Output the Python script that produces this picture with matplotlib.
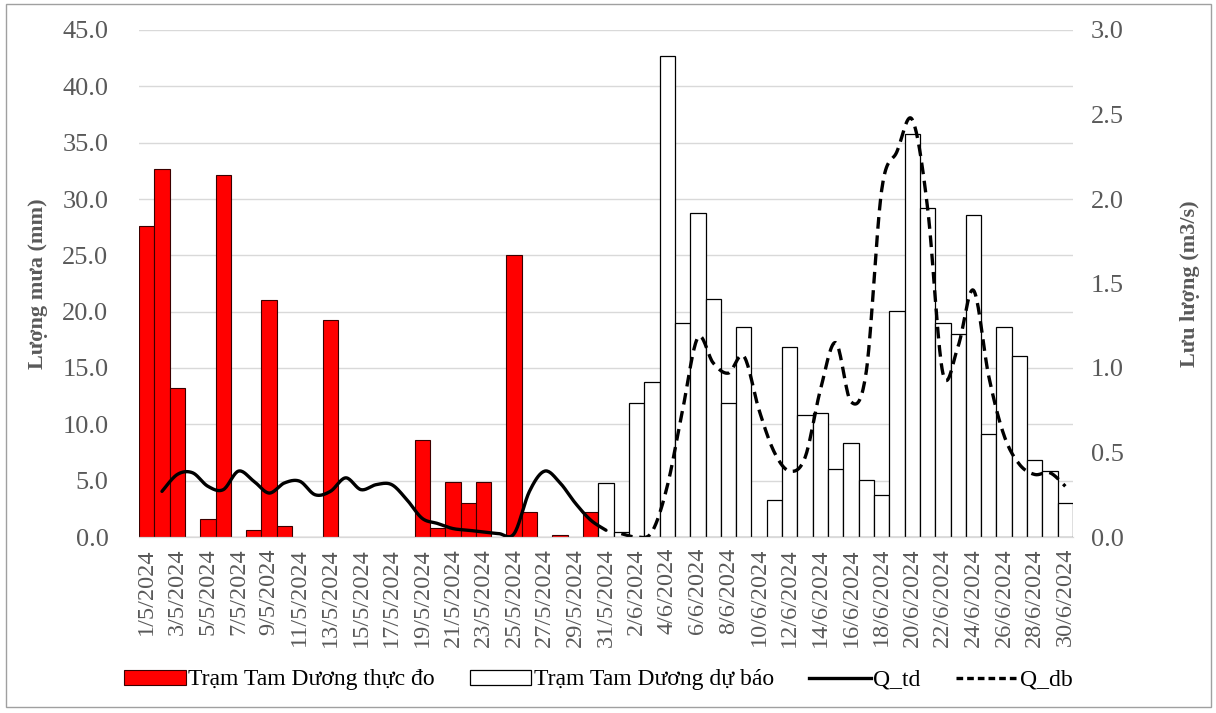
import numpy as np
import matplotlib
matplotlib.use('Agg')
import matplotlib.pyplot as plt
from matplotlib.patches import Patch, Rectangle
from matplotlib.lines import Line2D

plt.rcParams['font.family'] = ['Liberation Serif', 'DejaVu Serif']

## Data

dates = [f'{d}/5/2024' for d in range(1, 32)] + [f'{d}/6/2024' for d in range(1, 31)]

# rainfall, observed (1/5 - 30/5)
rain_obs = [27.6, 32.7, 13.2, 0.0, 1.6, 32.1, 0.0, 0.6, 21.0, 1.0,
            0.0, 0.0, 19.3, 0.0, 0.0, 0.0, 0.0, 0.0, 8.6, 0.8,
            4.9, 3.0, 4.9, 0.0, 25.0, 2.2, 0.0, 0.2, 0.0, 2.2]

# rainfall, forecast (31/5 - 30/6)
rain_fc = [4.8, 0.4, 11.9, 13.8, 42.7, 19.0, 28.8, 21.1, 11.9, 18.6,
           0.0, 3.3, 16.9, 10.8, 11.0, 6.0, 8.3, 5.1, 3.7, 20.1,
           35.8, 29.2, 19.0, 18.0, 28.6, 9.1, 18.6, 16.1, 6.8, 5.9, 3.0]

# discharge, observed (2/5 - 31/5)
q_td = [0.27, 0.37, 0.38, 0.30, 0.28, 0.39, 0.33, 0.26, 0.32, 0.33,
        0.25, 0.27, 0.35, 0.28, 0.31, 0.31, 0.22, 0.11, 0.08, 0.05,
        0.04, 0.03, 0.02, 0.02, 0.27, 0.39, 0.32, 0.20, 0.10, 0.04]

# discharge, forecast (1/6 - 30/6)
q_db = [0.02, 0.00, 0.03, 0.30, 0.75, 1.18, 1.03, 0.97, 1.07, 0.75,
        0.50, 0.39, 0.47, 0.87, 1.15, 0.80, 0.98, 2.05, 2.28, 2.47,
        1.95, 0.97, 1.13, 1.46, 0.95, 0.60, 0.43, 0.37, 0.38, 0.30]

x_obs = np.arange(0, len(rain_obs))
x_fc = np.arange(len(rain_obs), len(dates))
x_qtd = np.arange(1, 1 + len(q_td))
x_qdb = np.arange(31, 31 + len(q_db))


def smooth(x, y, n=20):
    # excel-like smoothed line (bezier through the points)
    x = np.asarray(x, float)
    y = np.asarray(y, float)
    px = np.concatenate([[x[0]], x, [x[-1]]])
    py = np.concatenate([[y[0]], y, [y[-1]]])
    t = np.linspace(0, 1, n)[:, None]
    xs, ys = [], []
    for i in range(1, len(px) - 2):
        p0 = np.array([px[i], py[i]])
        p3 = np.array([px[i + 1], py[i + 1]])
        p1 = p0 + (p3 - np.array([px[i - 1], py[i - 1]])) / 6
        p2 = p3 - (np.array([px[i + 2], py[i + 2]]) - p0) / 6
        b = (1 - t) ** 3 * p0 + 3 * (1 - t) ** 2 * t * p1 + 3 * (1 - t) * t ** 2 * p2 + t ** 3 * p3
        xs.append(b[:, 0])
        ys.append(b[:, 1])
    return np.concatenate(xs), np.concatenate(ys)


## plot

grey = '#595959'
fig = plt.figure(figsize=(12.16, 7.13), dpi=100)
ax = fig.add_axes([139 / 1216, 1 - 537 / 713, 934 / 1216, 507 / 713])
ax2 = ax.twinx()

ax.bar(x_obs, rain_obs, width=1.0, color='#ff0000', edgecolor='#3a0000', linewidth=0.8, zorder=2)
ax.bar(x_fc, rain_fc, width=1.0, color='white', edgecolor='black', linewidth=0.9, zorder=2)

sx, sy = smooth(x_qtd, q_td)
ax2.plot(sx, sy, color='black', linewidth=2.4, solid_capstyle='round')
sx, sy = smooth(x_qdb, q_db)
ax2.plot(sx, sy, color='black', linewidth=2.4, linestyle=(0, (3.5, 2)))

ax.set_xlim(-0.5, len(dates) - 0.5)
ax.set_ylim(0, 45)
ax2.set_ylim(0, 3)
ax.set_yticks(np.arange(0, 45.1, 5))
ax.set_yticklabels([f'{v:.1f}' for v in np.arange(0, 45.1, 5)])
ax2.set_yticks(np.arange(0, 3.01, 0.5))
ax2.set_yticklabels([f'{v:.1f}' for v in np.arange(0, 3.01, 0.5)])
ax.set_xticks(np.arange(0, len(dates), 2))
ax.set_xticklabels(dates[::2], rotation=90)

ax.grid(axis='y', color='#d9d9d9', linewidth=1.0, zorder=0)
ax.set_axisbelow(True)
for a in (ax, ax2):
    for s in ['top', 'left', 'right']:
        a.spines[s].set_visible(False)
    a.spines['bottom'].set_color('#d9d9d9')
    a.tick_params(length=0, colors=grey)

ax.tick_params(axis='y', labelsize=19, pad=22)
ax2.tick_params(axis='y', labelsize=19, pad=13)
ax.tick_params(axis='x', labelsize=17.5, pad=8)

ax.set_ylabel('Lượng mưa (mm)', fontsize=16, fontweight='bold', color=grey, labelpad=10)
ax2.set_ylabel('Lưu lượng (m3/s)', fontsize=16, fontweight='bold', color=grey, labelpad=40, rotation=90)

handles = [Patch(facecolor='#ff0000', edgecolor='#3a0000', linewidth=0.8),
           Patch(facecolor='white', edgecolor='black', linewidth=0.9),
           Line2D([], [], color='black', linewidth=2.4),
           Line2D([], [], color='black', linewidth=2.4, linestyle=(0, (2, 1.2)))]
labels = ['Trạm Tam Dương thực đo', 'Trạm Tam Dương dự báo', 'Q_td', 'Q_db']
fig.legend(handles, labels, loc='center', bbox_to_anchor=(0.492, 1 - 680 / 713), ncol=4,
           frameon=False, fontsize=17, handlelength=2.6, handleheight=0.6,
           columnspacing=1.5, handletextpad=0.1)

fig.add_artist(Rectangle((6 / 1216, 1 - 707 / 713), 1205 / 1216, 703 / 713,
                         transform=fig.transFigure, fill=False, edgecolor='#a0a0a0', linewidth=1))

plt.savefig('out.png', dpi=100)
